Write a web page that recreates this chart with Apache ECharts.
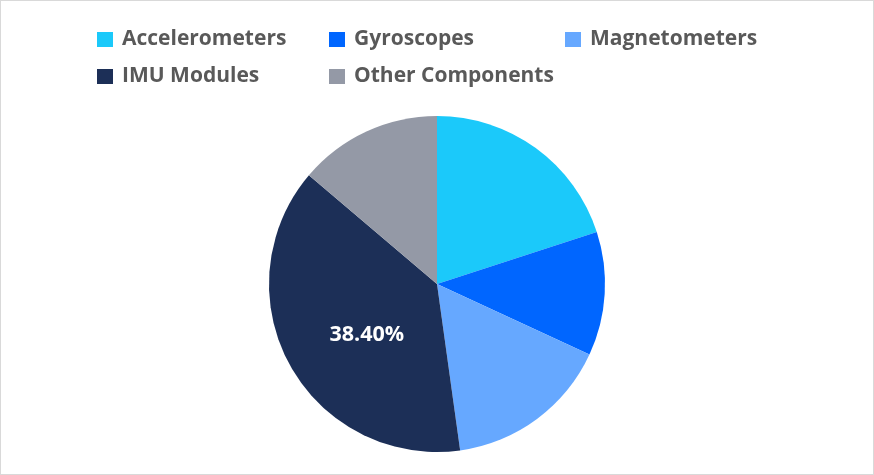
<!DOCTYPE html>
<html><head><meta charset="utf-8">
<script src="https://cdn.jsdelivr.net/npm/echarts@6/dist/echarts.min.js"></script>
<style>html,body{margin:0;padding:0;background:#fff}#c{width:872px;height:473px;border:1px solid #d9d9d9}</style>
</head><body><div id="c"></div>
<script>
const categories = ['Accelerometers','Gyroscopes','Magnetometers','IMU Modules','Other Components'];
const shares = [20.0, 11.9, 15.9, 38.4, 13.8];
const colors = ['#1BC9FA','#0066FF','#66A8FF','#1C2F57','#9499A6'];
const labelled = ['IMU Modules'];

const legendCols = [96, 328, 564];
const legendRows = [28, 65];

const chart = echarts.init(document.getElementById('c'));
chart.setOption({
  animation:false,
  color: colors,
  legend: categories.map((n,i)=>({
    left: legendCols[i%3], top: legendRows[Math.floor(i/3)],
    itemWidth:16, itemHeight:15, itemGap:10, icon:'rect', padding:0,
    textStyle:{fontFamily:'Open Sans', fontWeight:'bold', fontSize:21, color:'#595959', padding:[0,0,0,4]},
    data:[n]
  })),
  series:[{
    type:'pie', center:[436,283], radius:168, startAngle:90, clockwise:true,
    label:{show:false},
    labelLine:{show:false},
    itemStyle:{borderWidth:0},
    emphasis:{disabled:true},
    data: categories.map((n,i)=>({
      name:n, value:shares[i],
      label: labelled.includes(n) ? {show:true, position:'inside', color:'#fff', fontFamily:'Open Sans', fontWeight:'bold', fontSize:21.5,
        offset:[6,9], formatter:p=>p.value.toFixed(2)+'%'} : {show:false}
    }))
  }]
});
</script></body></html>
